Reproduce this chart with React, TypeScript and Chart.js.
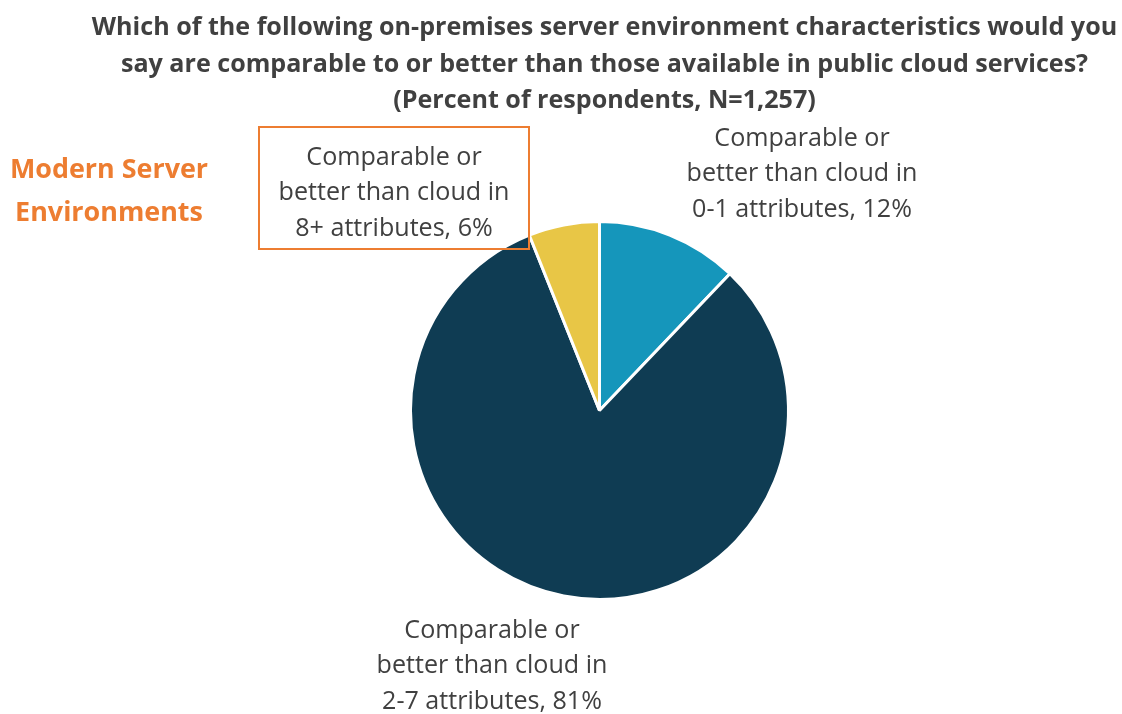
import React, { useEffect, useRef } from "react";
import { Chart, registerables } from "chart.js";

Chart.register(...registerables);

const titleLines = [
  "Which of the following on-premises server environment characteristics would you",
  "say are comparable to or better than those available in public cloud services?",
  "(Percent of respondents, N=1,257)",
];
const categories = [
  "Comparable or\nbetter than cloud in\n0-1 attributes",
  "Comparable or\nbetter than cloud in\n2-7 attributes",
  "Comparable or\nbetter than cloud in\n8+ attributes",
];
const values = [12, 81, 6];
const colors = ["#1596BB", "#0F3C53", "#E8C646"];
const sideNote = "Modern Server\nEnvironments";

const FONT = "'Open Sans', 'Noto Sans', sans-serif";
const TEXT = "#404040";
const ORANGE = "#ED7D31";

export default function App() {
  const ref = useRef<HTMLCanvasElement | null>(null);
  useEffect(() => {
    document.body.style.margin = "0";
    const chart = new Chart(ref.current!, {
      type: "pie",
      data: {
        labels: categories.map((c) => c.replace(/\n/g, " ")),
        datasets: [
          {
            data: values,
            backgroundColor: colors,
            borderColor: "#ffffff",
            borderWidth: 3,
            radius: 189,
          },
        ],
      },
      options: {
        responsive: false,
        animation: false,
        layout: { padding: { left: 400, right: 323, top: 211, bottom: 104 } },
        plugins: {
          legend: { display: false },
          tooltip: { enabled: false },
          title: { display: false },
        },
      },
    });
    return () => chart.destroy();
  }, []);

  const lineH = 35.5;
  const label = (i: number, cx: number, cy: number) => (
    <div
      style={{
        position: "absolute",
        left: cx - 200,
        width: 400,
        top: cy - (lineH * 3) / 2,
        textAlign: "center",
        whiteSpace: "pre-line",
        fontFamily: FONT,
        fontSize: 25.1,
        lineHeight: lineH + "px",
        color: TEXT,
      }}
    >
      {categories[i] + ", " + values[i] + "%"}
    </div>
  );

  return (
    <div style={{ position: "relative", width: 1122, height: 714, background: "#fff", overflow: "hidden" }}>
      <canvas ref={ref} width={1122} height={714} style={{ position: "absolute", left: 0, top: 0 }} />
      <div
        style={{
          position: "absolute",
          left: 0,
          width: 1209,
          top: 7,
          textAlign: "center",
          fontFamily: FONT,
          fontWeight: 700,
          fontSize: 25.1,
          lineHeight: "36.5px",
          color: TEXT,
        }}
      >
        {titleLines.map((t, i) => (
          <div key={i}>{t}</div>
        ))}
      </div>
      <div
        style={{
          position: "absolute",
          left: 0,
          width: 218,
          top: 146,
          textAlign: "center",
          whiteSpace: "pre-line",
          fontFamily: FONT,
          fontWeight: 700,
          fontSize: 26.9,
          lineHeight: "43px",
          color: ORANGE,
        }}
      >
        {sideNote}
      </div>
      <div
        style={{
          position: "absolute",
          left: 258,
          top: 126,
          width: 272,
          height: 124,
          boxSizing: "border-box",
          border: "2px solid " + ORANGE,
        }}
      />
      {label(0, 802, 172)}
      {label(1, 492, 664)}
      {label(2, 394, 191)}
    </div>
  );
}
